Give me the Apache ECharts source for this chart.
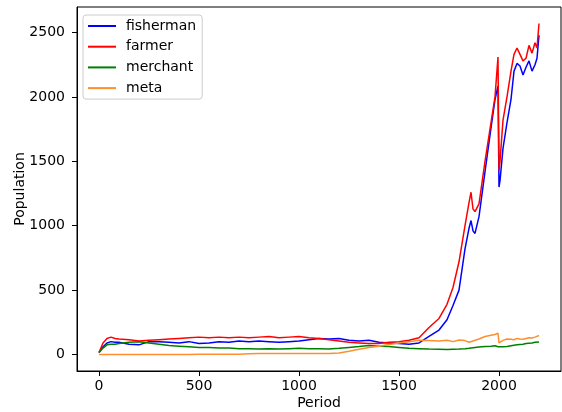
<!DOCTYPE html>
<html>
<head>
<meta charset="utf-8">
<script src="https://cdn.jsdelivr.net/npm/echarts@6/dist/echarts.min.js"></script>
<style>
  html, body { margin: 0; padding: 0; background: #fff; }
  #chart { width: 562px; height: 412px; }
</style>
</head>
<body>
<div id="chart"></div>
<script>
// period samples (x values)
const periods = [0, 20, 40, 60, 80, 100, 150, 200, 250, 300, 350, 400, 450, 500, 550, 600, 650, 700, 750, 800,
  850, 900, 950, 1000, 1050, 1100, 1150, 1200, 1250, 1300, 1350, 1400, 1450, 1500, 1550, 1600, 1650, 1700, 1740, 1770,
  1800, 1830, 1850, 1860, 1870, 1880, 1900, 1930, 1960, 1980, 1995, 2000, 2005, 2020, 2040, 2060, 2075, 2090, 2105, 2120,
  2135, 2150, 2165, 2180, 2190, 2200];

const fisherman = [15, 60, 90, 100, 95, 95, 80, 75, 100, 100, 95, 90, 100, 85, 90, 100, 95, 105, 100, 105,
  100, 95, 100, 105, 115, 125, 120, 125, 110, 105, 110, 95, 90, 85, 80, 90, 140, 190, 270, 380,
  500, 820, 980, 1040, 960, 940, 1070, 1420, 1760, 1980, 2085, 1300, 1350, 1600, 1800, 1980, 2200, 2260, 2240, 2170,
  2230, 2280, 2200, 2250, 2300, 2480];

const farmer = [15, 90, 125, 135, 125, 120, 115, 105, 110, 115, 120, 125, 130, 135, 130, 135, 130, 135, 130, 135,
  140, 130, 135, 140, 130, 125, 115, 105, 95, 90, 85, 85, 95, 100, 110, 130, 210, 280, 390, 520,
  720, 1000, 1180, 1260, 1130, 1110, 1170, 1500, 1800, 2000, 2310, 1430, 1500, 1820, 2000, 2200, 2330, 2380, 2330, 2280,
  2300, 2400, 2340, 2420, 2380, 2570];

const merchant = [15, 50, 75, 80, 80, 85, 95, 100, 90, 80, 70, 65, 60, 55, 55, 50, 50, 45, 45, 42,
  45, 42, 45, 48, 45, 45, 42, 48, 55, 62, 70, 65, 62, 55, 48, 45, 42, 40, 38, 40,
  42, 45, 48, 50, 52, 55, 58, 62, 65, 68, 60, 55, 55, 60, 62, 68, 72, 75, 78, 80,
  85, 88, 90, 95, 95, 98];

const meta = [0, 0, 0, 0, 0, 0, 0, 0, 0, 0, 0, 1, 1, 2, 2, 2, 2, 2, 5, 8,
  8, 8, 8, 8, 8, 8, 8, 12, 25, 40, 55, 65, 78, 90, 100, 110, 108, 105, 110, 100,
  112, 108, 95, 100, 105, 110, 120, 140, 150, 155, 165, 90, 95, 110, 120, 118, 115, 125, 120, 118,
  125, 130, 128, 135, 140, 148];

const seriesNames = ['fisherman', 'farmer', 'merchant', 'meta'];
const seriesValues = [fisherman, farmer, merchant, meta];
const seriesColors = ['#0000ff', '#ff0000', '#008000', '#fd8f2f'];

const xTicks = [0, 500, 1000, 1500, 2000];
const yTicks = [0, 500, 1000, 1500, 2000, 2500];

const font = 'DejaVu Sans';
const chart = echarts.init(document.getElementById('chart'));

const option = {
  animation: false,
  textStyle: { fontFamily: font },
  grid: {
    left: 77, right: 1, top: 7, bottom: 41,
    containLabel: false,
    outerBoundsMode: 'none',
    show: true, borderColor: '#000', borderWidth: 1
  },
  legend: {
    orient: 'vertical',
    left: 83, top: 15,
    padding: [4, 6, 4, 5],
    itemGap: 6.7,
    itemWidth: 28, itemHeight: 2,
    icon: 'rect',
    borderColor: '#cccccc', borderWidth: 1, borderRadius: 3,
    backgroundColor: 'rgba(255,255,255,0.8)',
    textStyle: { fontFamily: font, fontSize: 14, color: '#000', lineHeight: 14, padding: [0, 0, 0, 5] },
    data: seriesNames
  },
  xAxis: {
    type: 'value',
    min: -110, max: 2310,
    name: 'Period', nameLocation: 'middle', nameGap: 25, nameMoveOverlap: false,
    nameTextStyle: { fontFamily: font, fontSize: 14, color: '#000' },
    axisLine: { onZero: false, lineStyle: { color: '#000' } },
    axisTick: { length: 5, lineStyle: { color: '#000' }, customValues: xTicks },
    axisLabel: { fontFamily: font, fontSize: 14, color: '#000', margin: 8, customValues: xTicks, formatter: v => String(v) },
    splitLine: { show: false }
  },
  yAxis: {
    type: 'value',
    min: -128, max: 2698,
    name: 'Population', nameLocation: 'middle', nameGap: 50, nameMoveOverlap: false,
    nameTextStyle: { fontFamily: font, fontSize: 14, color: '#000' },
    axisLine: { show: true, onZero: false, lineStyle: { color: '#000' } },
    axisTick: { show: true, length: 5, lineStyle: { color: '#000' }, customValues: yTicks },
    axisLabel: { fontFamily: font, fontSize: 14, color: '#000', margin: 12, customValues: yTicks, formatter: v => String(v) },
    splitLine: { show: false }
  },
  series: seriesNames.map((name, i) => ({
    name: name,
    type: 'line',
    symbol: 'none',
    color: seriesColors[i],
    lineStyle: { width: 1.5, color: seriesColors[i] },
    data: periods.map((p, j) => [p, seriesValues[i][j]])
  }))
};

chart.setOption(option);
</script>
</body>
</html>
